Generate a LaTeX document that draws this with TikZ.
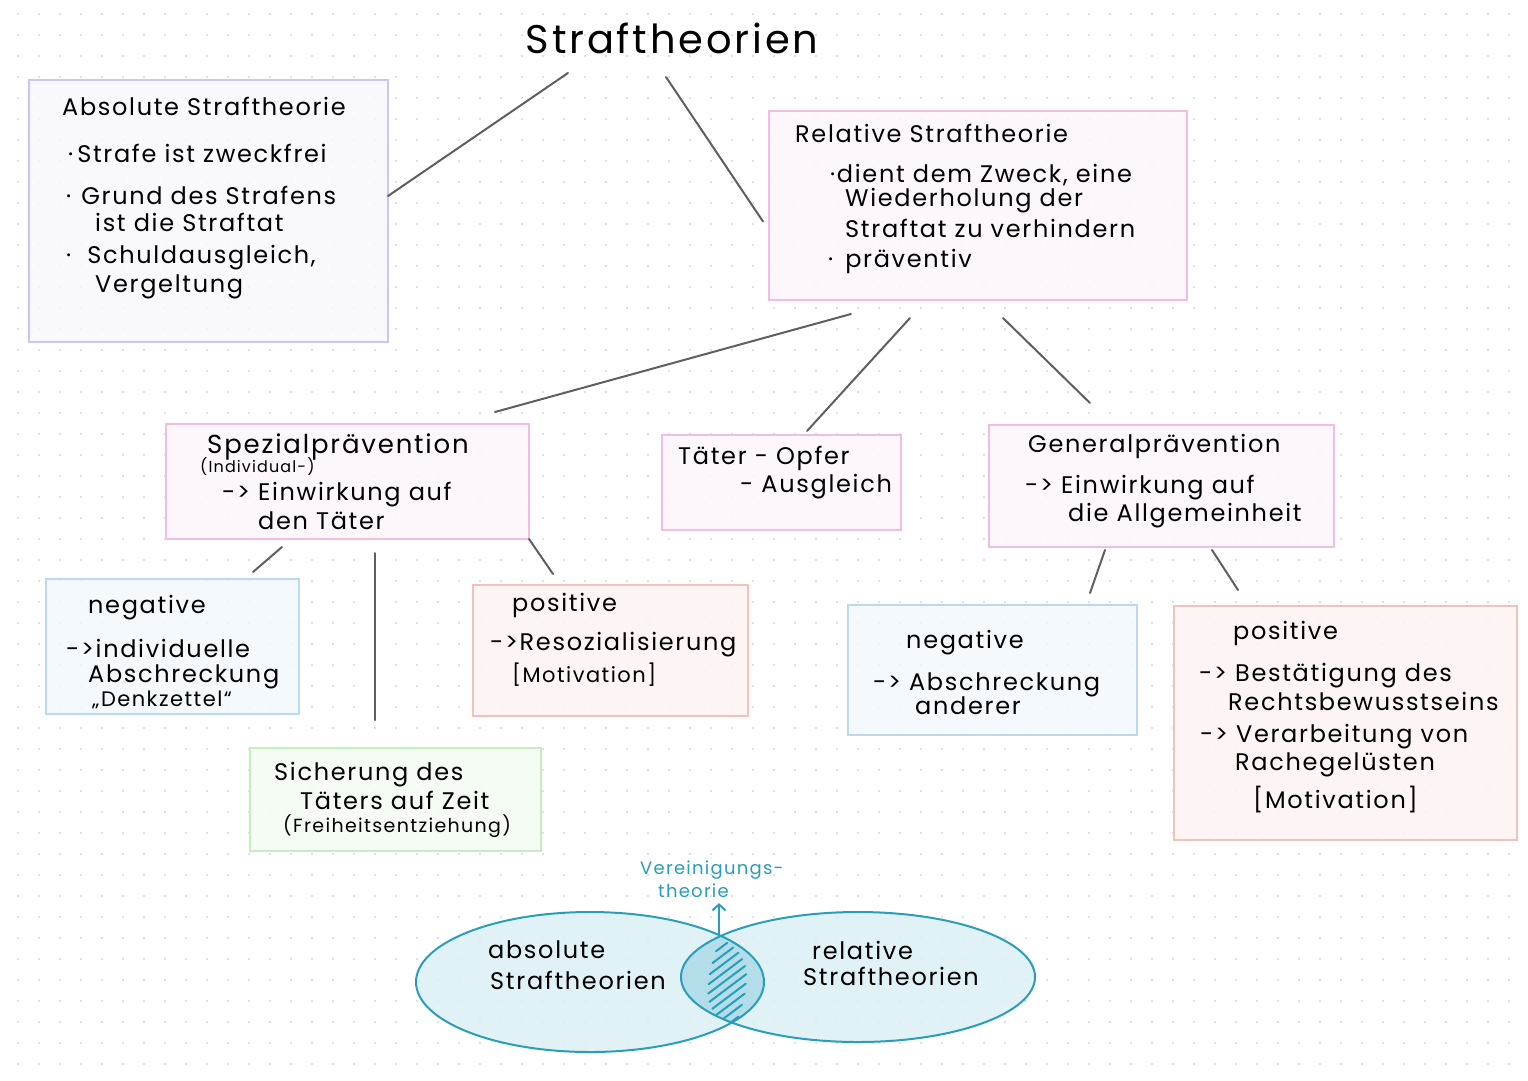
\documentclass[tikz,border=0pt]{standalone}
\usepackage{fontspec}
\setmainfont[LetterSpace=7]{Poppins}
\usetikzlibrary{arrows, arrows.meta, positioning, calc}

\definecolor{dotgray}{HTML}{D6D6D6}
\definecolor{linegray}{HTML}{5F5F5F}
\definecolor{lavfill}{HTML}{F7F7FD}
\definecolor{lavdraw}{HTML}{C8C8EE}
\definecolor{pinkfill}{HTML}{FDF5FB}
\definecolor{pinkdraw}{HTML}{F2BEE0}
\definecolor{bluefill}{HTML}{F3F8FD}
\definecolor{bluedraw}{HTML}{BBD9F1}
\definecolor{redfill}{HTML}{FDF3F2}
\definecolor{reddraw}{HTML}{F1C2BD}
\definecolor{greenfill}{HTML}{F3FCF1}
\definecolor{greendraw}{HTML}{C4EEBC}
\definecolor{venfill}{HTML}{DCF0F6}
\definecolor{venlens}{HTML}{B4DDEA}
\definecolor{venline}{HTML}{2A9DB8}

\tikzset{node distance=2cm, auto}
\tikzset{
  thbox/.style={draw=#1draw, fill=#1fill, fill opacity=0.88, line width=1.8pt, inner sep=0pt, outer sep=0pt},
  txt/.style={anchor=west, inner sep=0pt, font=\fontsize{24}{28}\selectfont},
  small/.style={txt, font=\fontsize{#1}{#1}\selectfont},
  conn/.style={draw=linegray, line width=2pt, line cap=round},
  vtxt/.style={txt, text=venline, font=\fontsize{18}{20}\selectfont},
  hatch/.style={draw=venline, line width=2pt, line cap=round}
}

\begin{document}
\begin{tikzpicture}[x=1pt, y=-1pt]
\useasboundingbox (0,0) rectangle (1528,1080);
%% dot grid
\foreach \i in {0,...,72}
  \foreach \j in {0,...,50}
    \fill[dotgray] (18+21*\i, 14+21*\j) circle (1.1);

%% title
\node[inner sep=0pt, font=\fontsize{40}{44}\selectfont] (title) at (672,38) {Straftheorien};
\coordinate (tl) at (568,73);
\coordinate (tr) at (666,77);

%% absolute
\node[thbox=lav, minimum width=359pt, minimum height=262pt] (absbox) at (208.5,211) {};
\node[txt] (a1) at (62,106) {Absolute Straftheorie};
\node[txt] (a2) at (68,153) {·\hspace{4pt}Strafe ist zweckfrei};
\node[txt] (a3) at (66,195) {·\hspace{10pt}Grund des Strafens};
\node[txt] (a4) at (95,222) {ist die Straftat};
\node[txt] (a5) at (66,258) {·\hspace{16pt}Schuldausgleich,};
\node[txt] (a6) at (95,287) {Vergeltung};

%% relative
\node[thbox=pink, minimum width=418pt, minimum height=189pt] (relbox) at (978,205.5) {};
\node[txt] (r1) at (795,133) {Relative Straftheorie};
\node[txt] (r2) at (830,175) {·dient dem Zweck, eine};
\node[txt] (r3) at (845,201) {Wiederholung der};
\node[txt] (r4) at (845,228) {Straftat zu verhindern};
\node[txt] (r5) at (828,261) {·\hspace{12pt}präventiv};

\draw[conn] (tl) -- ([yshift=15pt]absbox.east);
\draw[conn] (tr) -- ([xshift=-6pt,yshift=-16pt]relbox.west);

%% second row
\node[thbox=pink, minimum width=363pt, minimum height=115pt] (spezbox) at (347.5,481.5) {};
\node[txt, font=\fontsize{26}{28}\selectfont] (s1) at (207,447) {Spezialprävention};
\node[small=16] (s2) at (200,467) {(Individual-)};
\node[txt] (s3) at (222,495) {-> Einwirkung auf};
\node[txt] (s4) at (258,521) {den Täter};

\node[thbox=pink, minimum width=239pt, minimum height=95pt] (toabox) at (781.5,482.5) {};
\node[txt] (t1) at (678,458) {Täter - Opfer};
\node[txt] (t2) at (740,487) {- Ausgleich};

\node[thbox=pink, minimum width=345pt, minimum height=122pt] (genbox) at (1161.5,486) {};
\node[txt] (g1) at (1028,446) {Generalprävention};
\node[txt] (g2) at (1025,488) {-> Einwirkung auf};
\node[txt] (g3) at (1068,516) {die Allgemeinheit};

\draw[conn] ([xshift=-127pt,yshift=-14pt]relbox.south) -- ([xshift=147.5pt,yshift=12pt]spezbox.north);
\draw[conn] ([xshift=-68pt,yshift=-18pt]relbox.south) -- ([xshift=25.5pt,yshift=4pt]toabox.north);
\draw[conn] ([xshift=25pt,yshift=-18pt]relbox.south) -- ([xshift=-71.5pt,yshift=22pt]genbox.north);

%% third row, left
\node[thbox=blue, minimum width=253pt, minimum height=135pt] (snegbox) at (172.5,646.5) {};
\node[txt] (n1) at (88,608) {negative};
\node[txt] (n2) at (66,648) {->individuelle};
\node[txt] (n3) at (88,677) {Abschreckung};
\node[small=21] (n4) at (92,700) {„Denkzettel“};

\node[thbox=red, minimum width=275pt, minimum height=131pt] (sposbox) at (610.5,650.5) {};
\node[txt] (p1) at (512,605) {positive};
\node[txt] (p2) at (490,645) {->Resozialisierung};
\node[small=21] (p3) at (512,675) {[Motivation]};

\node[thbox=green, minimum width=291pt, minimum height=103pt] (sichbox) at (395.5,799.5) {};
\node[txt] (c1) at (274,775) {Sicherung des};
\node[txt] (c2) at (300,800) {Täters auf Zeit};
\node[small=19] (c3) at (283,826) {(Freiheitsentziehung)};

\draw[conn] ([xshift=-65.5pt,yshift=-8pt]spezbox.south) -- ([xshift=80.5pt,yshift=7pt]snegbox.north);
\draw[conn] ([xshift=27.5pt,yshift=-14pt]spezbox.south) -- ([xshift=-20.5pt,yshift=28pt]sichbox.north);
\draw[conn] (spezbox.south east) -- ([xshift=-57.5pt,yshift=11pt]sposbox.north);

%% third row, right
\node[thbox=blue, minimum width=289pt, minimum height=130pt] (gnegbox) at (992.5,670) {};
\node[txt] (m1) at (906,643) {negative};
\node[txt] (m2) at (873,685) {-> Abschreckung};
\node[txt] (m3) at (915,706) {anderer};

\node[thbox=red, minimum width=343pt, minimum height=234pt] (gposbox) at (1345.5,723) {};
\node[txt] (q1) at (1233,633) {positive};
\node[txt] (q2) at (1199,676) {-> Bestätigung des};
\node[txt] (q3) at (1228,701) {Rechtsbewusstseins};
\node[txt] (q4) at (1200,737) {-> Verarbeitung von};
\node[txt] (q5) at (1235,765) {Rachegelüsten};
\node[txt] (q6) at (1253,800) {[Motivation]};

\draw[conn] ([xshift=-56.5pt,yshift=-3pt]genbox.south) -- ([xshift=97.5pt,yshift=12pt]gnegbox.north);
\draw[conn] ([xshift=50.5pt,yshift=-3pt]genbox.south) -- ([xshift=-107.5pt,yshift=16pt]gposbox.north);

%% venn diagram
\fill[venfill, fill opacity=0.85] (590,982) ellipse [x radius=174, y radius=70];
\fill[venfill, fill opacity=0.85] (858,977) ellipse [x radius=177, y radius=65];
\begin{scope}
  \clip (590,982) ellipse [x radius=174, y radius=70];
  \fill[venlens] (858,977) ellipse [x radius=177, y radius=65];
  \clip (858,977) ellipse [x radius=177, y radius=65];
  \foreach \k/\l in {0/7,1/13,2/18,3/21,4/23,5/23,6/21,7/18,8/13,9/7} {
    \pgfmathsetmacro{\cy}{947+8.2*\k}
    \pgfmathsetmacro{\cx}{720+13*(\cy-936)/86}
    \draw[hatch] (\cx-0.8*\l, \cy+0.6*\l) -- (\cx+0.8*\l, \cy-0.6*\l);
  }
\end{scope}
\draw[venline, line width=2pt] (590,982) ellipse [x radius=174, y radius=70];
\draw[venline, line width=2pt] (858,977) ellipse [x radius=177, y radius=65];

\node[txt] (v1) at (488,950) {absolute};
\node[txt] (v2) at (490,980) {Straftheorien};
\node[txt] (v3) at (812,950) {relative};
\node[txt] (v4) at (803,976) {Straftheorien};

\node[vtxt] (vt1) at (640,870) {Vereinigungs-};
\node[vtxt] (vt2) at (658,891) {theorie};
\coordinate (lenstop) at (719,935);
\draw[venline, line width=2pt, -{Straight Barb[length=6pt,width=13pt]}] (lenstop) -- ([yshift=-5pt]lenstop |- vt2.south);
\end{tikzpicture}
\end{document}
